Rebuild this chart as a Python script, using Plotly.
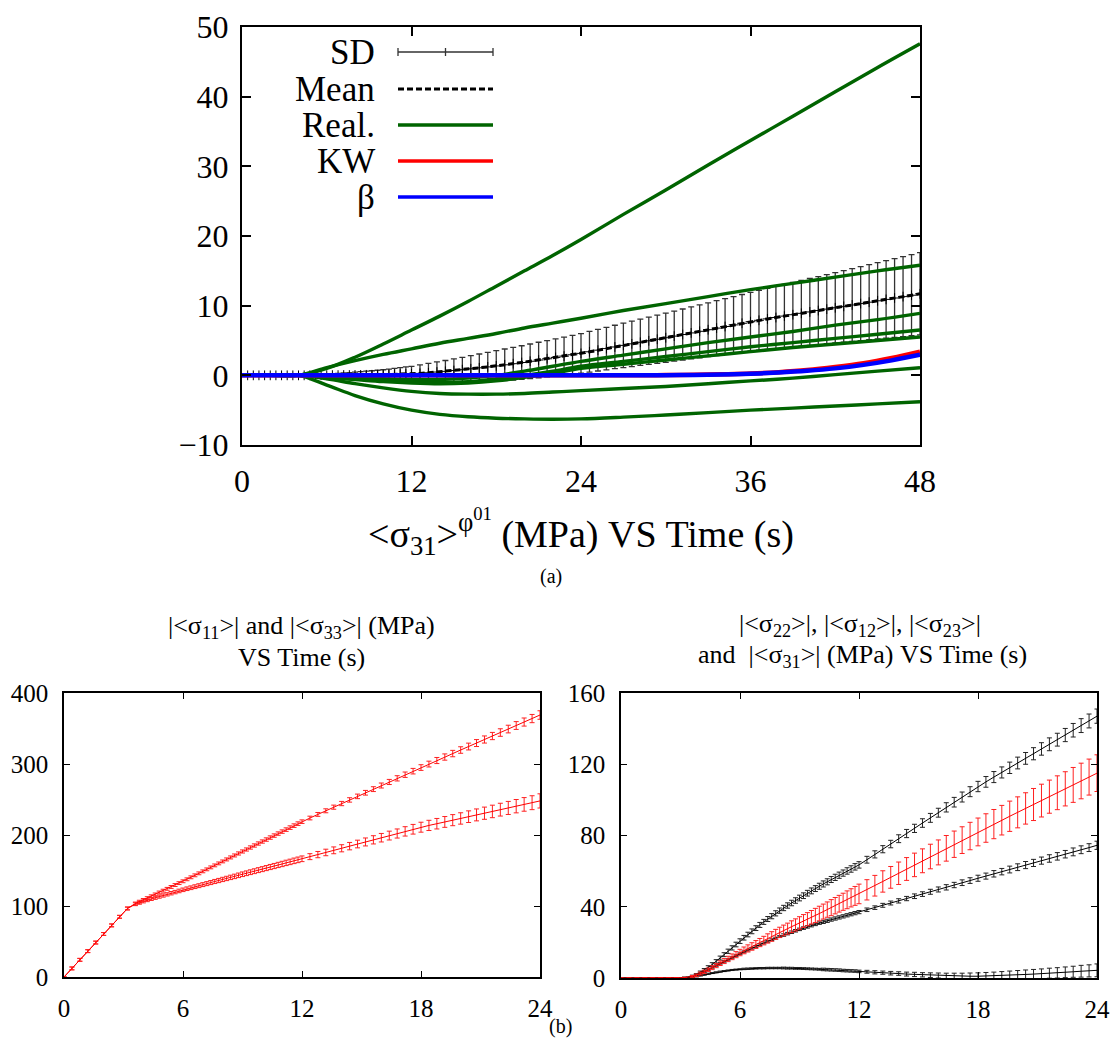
import plotly.graph_objects as go

# ---------------- DATA ----------------
# Top panel: realizations sampled every 2-3 s
T_REAL = [0, 2, 4, 6, 8, 10, 12, 14, 16, 18, 20, 22, 24, 27, 30, 33, 36, 39, 42, 45, 48]
REAL_1 = [0, 0, 0, 1.0, 2.6, 4.5, 6.5, 8.5, 10.6, 12.8, 15.0, 17.2, 19.5, 23.1, 26.6, 30.2, 33.7, 37.2, 40.7, 44.2, 47.6]
REAL_2 = [0, 0, 0, 1.1, 2.1, 3.0, 3.8, 4.6, 5.3, 6.0, 6.8, 7.5, 8.2, 9.3, 10.3, 11.3, 12.3, 13.2, 14.1, 15.0, 15.8]
REAL_3 = [0, 0, 0, -0.1, -0.3, -0.5, -0.6, -0.6, -0.4, 0.0, 0.6, 1.3, 2.0, 2.9, 3.8, 4.7, 5.5, 6.3, 7.2, 8.0, 8.9]
REAL_4 = [0, 0, 0, -0.2, -0.5, -0.7, -0.9, -1.0, -0.9, -0.5, 0.0, 0.6, 1.3, 2.0, 2.7, 3.4, 4.1, 4.7, 5.3, 5.9, 6.5]
REAL_5 = [0, 0, 0, -0.3, -0.6, -0.9, -1.1, -1.2, -1.1, -0.8, -0.3, 0.3, 1.0, 1.6, 2.2, 2.8, 3.4, 4.0, 4.5, 5.0, 5.5]
REAL_6 = [0, 0, 0, -0.5, -1.2, -1.8, -2.3, -2.6, -2.7, -2.7, -2.6, -2.4, -2.2, -1.9, -1.6, -1.2, -0.8, -0.4, 0.1, 0.6, 1.1]
REAL_7 = [0, 0, 0, -1.4, -2.9, -4.1, -5.0, -5.6, -5.95, -6.15, -6.25, -6.3, -6.25, -6.0, -5.7, -5.35, -5.0, -4.7, -4.4, -4.1, -3.8]
REALS = [REAL_1, REAL_2, REAL_3, REAL_4, REAL_5, REAL_6, REAL_7]

T_KW = [0, 4, 8, 12, 16, 20, 24, 28, 30, 32, 34, 36, 38, 40, 42, 44, 46, 48]
KW = [0, 0, 0, 0, 0, 0, 0, 0, 0.03, 0.08, 0.15, 0.25, 0.45, 0.75, 1.2, 1.75, 2.5, 3.4]
BETA = [0, 0, 0, 0, 0, 0, 0, 0, 0.02, 0.06, 0.12, 0.22, 0.4, 0.65, 1.0, 1.5, 2.15, 2.95]

T_MEAN = [0.4, 0.8, 1.2, 1.6, 2.0, 2.4, 2.8, 3.2, 3.6, 4.0,
          4.4, 4.8, 5.2, 5.6, 6.0, 6.4, 6.8, 7.2, 7.6, 8.0,
          8.4, 8.8, 9.2, 9.6, 10.0, 10.4, 10.8, 11.2, 11.6, 12.0,
          12.6, 13.2, 13.8, 14.4, 15.0, 15.6, 16.2, 16.8, 17.4, 18.0,
          18.6, 19.2, 19.8, 20.4, 21.0, 21.6, 22.2, 22.8, 23.4, 24.0,
          24.6, 25.2, 25.8, 26.4, 27.0, 27.6, 28.2, 28.8, 29.4, 30.0,
          30.6, 31.2, 31.8, 32.4, 33.0, 33.6, 34.2, 34.8, 35.4, 36.0,
          36.6, 37.2, 37.8, 38.4, 39.0, 39.6, 40.2, 40.8, 41.4, 42.0,
          42.6, 43.2, 43.8, 44.4, 45.0, 45.6, 46.2, 46.8, 47.4, 48.0]
MEAN = [0, 0, 0, 0, 0, 0, 0, 0, 0, 0,
        0.0, 0.01, 0.01, 0.02, 0.02, 0.03, 0.03, 0.04, 0.04, 0.05,
        0.06, 0.07, 0.08, 0.09, 0.1, 0.12, 0.14, 0.16, 0.18, 0.2,
        0.28, 0.37, 0.47, 0.57, 0.69, 0.81, 0.94, 1.08, 1.21, 1.35,
        1.51, 1.67, 1.84, 2.02, 2.2, 2.38, 2.57, 2.76, 2.95, 3.15,
        3.38, 3.61, 3.84, 4.07, 4.3, 4.52, 4.74, 4.96, 5.18, 5.4,
        5.63, 5.86, 6.09, 6.32, 6.55, 6.78, 7.01, 7.24, 7.47, 7.7,
        7.9, 8.1, 8.3, 8.5, 8.7, 8.9, 9.1, 9.3, 9.5, 9.7,
        9.9, 10.1, 10.3, 10.5, 10.7, 10.9, 11.1, 11.3, 11.5, 11.7]
SD = [0, 0, 0, 0, 0, 0, 0, 0, 0, 0,
      0.02, 0.05, 0.09, 0.13, 0.17, 0.21, 0.26, 0.31, 0.36, 0.41,
      0.46, 0.52, 0.58, 0.64, 0.7, 0.78, 0.86, 0.94, 1.02, 1.1,
      1.22, 1.34, 1.45, 1.56, 1.67, 1.78, 1.88, 1.98, 2.09, 2.2,
      2.27, 2.34, 2.41, 2.48, 2.55, 2.61, 2.67, 2.73, 2.79, 2.85,
      2.92, 2.99, 3.05, 3.12, 3.19, 3.26, 3.32, 3.39, 3.46, 3.53,
      3.59, 3.66, 3.73, 3.8, 3.86, 3.93, 4.0, 4.07, 4.13, 4.2,
      4.29, 4.37, 4.46, 4.54, 4.63, 4.71, 4.8, 4.88, 4.97, 5.05,
      5.14, 5.22, 5.31, 5.39, 5.48, 5.56, 5.65, 5.73, 5.82, 5.9]

# Bottom panels: common time grid
T_BOT = [0, 0.4, 0.8, 1.2, 1.6, 2.0, 2.4, 2.8, 3.2, 3.6,
         3.8, 4.0, 4.2, 4.4, 4.6, 4.8, 5.0, 5.2, 5.4, 5.6, 5.8, 6.0,
         6.2, 6.4, 6.6, 6.8, 7.0, 7.2, 7.4, 7.6, 7.8, 8.0,
         8.2, 8.4, 8.6, 8.8, 9.0, 9.2, 9.4, 9.6, 9.8, 10.0,
         10.2, 10.4, 10.6, 10.8, 11.0, 11.2, 11.4, 11.6, 11.8, 12.0,
         12.4, 12.8, 13.2, 13.6, 14.0, 14.4, 14.8, 15.2, 15.6, 16.0,
         16.4, 16.8, 17.2, 17.6, 18.0, 18.4, 18.8, 19.2, 19.6, 20.0,
         20.4, 20.8, 21.2, 21.6, 22.0, 22.4, 22.8, 23.2, 23.6, 24.0]

S11 = [0, 12.1, 24.2, 36.4, 48.5, 60.6, 72.7, 84.8, 96.5, 103.5,
       106.1, 108.5, 111.1, 113.7, 116.3, 119.0, 121.6, 124.2, 126.8, 129.5, 132.2, 134.8,
       137.6, 140.4, 143.2, 146.0, 148.8, 151.6, 154.4, 157.2, 160.0, 162.8,
       165.6, 168.4, 171.2, 174.0, 176.8, 179.6, 182.4, 185.2, 188.0, 190.8,
       193.6, 196.4, 199.2, 202.0, 204.8, 207.6, 210.4, 213.2, 216.0, 218.8,
       223.9, 229.0, 234.1, 239.2, 244.3, 249.4, 254.4, 259.5, 264.6, 269.7,
       274.7, 279.8, 284.9, 289.9, 295.0, 299.9, 304.9, 309.8, 314.7, 319.7,
       324.6, 329.5, 334.5, 339.4, 344.3, 349.2, 354.2, 359.1, 364.0, 369.0]
S11_SD = [0, 2, 2, 2, 2, 2, 2, 2, 2, 2,
          2.0, 2.0, 2.0, 2.0, 2.0, 2.0, 2.0, 2.0, 2.0, 2.0, 2.0, 2.0,
          2.0, 2.0, 2.0, 2.0, 2.0, 2.0, 2.0, 2.0, 2.0, 2.0,
          2.1, 2.1, 2.1, 2.2, 2.2, 2.2, 2.3, 2.3, 2.3, 2.3,
          2.4, 2.4, 2.4, 2.4, 2.4, 2.5, 2.5, 2.5, 2.5, 2.5,
          2.6, 2.7, 2.8, 2.9, 3.0, 3.1, 3.2, 3.3, 3.4, 3.5,
          3.6, 3.7, 3.8, 3.9, 4.0, 4.1, 4.3, 4.4, 4.5, 4.6,
          4.8, 4.9, 5.0, 5.1, 5.3, 5.4, 5.5, 5.7, 5.8, 6.0]
S33 = [0, 12.1, 24.2, 36.4, 48.5, 60.6, 72.7, 84.8, 96.5, 102.5,
       104.5, 106.4, 108.2, 109.9, 111.6, 113.2, 114.8, 116.4, 118.0, 119.6, 121.2, 122.8,
       124.3, 125.7, 127.2, 128.6, 130.1, 131.5, 133.0, 134.5, 135.9, 137.4,
       138.8, 140.3, 141.7, 143.2, 144.7, 146.1, 147.6, 149.0, 150.5, 151.9,
       153.4, 154.9, 156.3, 157.8, 159.2, 160.7, 162.1, 163.6, 165.0, 166.5,
       169.5, 172.4, 175.4, 178.4, 181.3, 184.3, 187.3, 190.2, 193.2, 196.2,
       199.2, 202.1, 205.1, 208.1, 211.0, 213.5, 215.9, 218.4, 220.9, 223.3,
       225.8, 228.3, 230.7, 233.2, 235.7, 238.1, 240.6, 243.1, 245.5, 248.0]
S33_SD = [0, 2, 2, 2, 2, 2, 2, 2, 2, 2,
          2.0, 2.0, 2.1, 2.1, 2.2, 2.2, 2.3, 2.3, 2.4, 2.4, 2.5, 2.5,
          2.55, 2.6, 2.65, 2.7, 2.75, 2.8, 2.85, 2.9, 2.95, 3.0,
          3.05, 3.1, 3.15, 3.2, 3.25, 3.3, 3.35, 3.4, 3.45, 3.5,
          3.55, 3.6, 3.65, 3.7, 3.75, 3.8, 3.85, 3.9, 3.95, 4.0,
          4.2, 4.4, 4.6, 4.8, 5.0, 5.2, 5.4, 5.6, 5.8, 6.0,
          6.2, 6.4, 6.6, 6.8, 7.0, 7.2, 7.4, 7.6, 7.8, 8.0,
          8.2, 8.4, 8.6, 8.8, 9.0, 9.2, 9.4, 9.6, 9.8, 10.0]

S22 = [0, 0, 0, 0, 0, 0, 0, 0, 0.2, 1.1,
       1.9, 3.2, 4.5, 6.0, 7.6, 9.3, 11.2, 13.1, 15.0, 16.9, 18.8, 20.7,
       22.6, 24.4, 26.2, 28.0, 29.8, 31.5, 33.1, 34.7, 36.3, 37.8,
       39.3, 40.7, 42.1, 43.5, 44.9, 46.2, 47.6, 48.9, 50.2, 51.5,
       52.8, 54.0, 55.3, 56.5, 57.7, 58.9, 60.1, 61.2, 62.4, 63.5,
       66.4, 69.4, 72.3, 75.2, 78.2, 81.1, 84.0, 87.0, 89.9, 92.8,
       95.8, 98.7, 101.6, 104.6, 107.5, 110.1, 112.8, 115.4, 118.0, 120.7,
       123.3, 125.9, 128.6, 131.2, 133.8, 136.4, 139.1, 141.7, 144.3, 147.0]
S22_SD = [0, 0, 0, 0, 0, 0, 0, 0, 0.3, 0.5,
          0.6, 0.7, 0.8, 0.9, 1.0, 1.0, 1.1, 1.1, 1.2, 1.2, 1.3, 1.3,
          1.3, 1.3, 1.35, 1.35, 1.4, 1.4, 1.4, 1.45, 1.45, 1.5,
          1.5, 1.5, 1.55, 1.55, 1.6, 1.6, 1.6, 1.65, 1.65, 1.7,
          1.7, 1.7, 1.7, 1.75, 1.75, 1.75, 1.8, 1.8, 1.8, 1.8,
          1.9, 2.0, 2.0, 2.1, 2.2, 2.3, 2.3, 2.4, 2.5, 2.5,
          2.6, 2.7, 2.8, 2.8, 2.9, 3.0, 3.1, 3.1, 3.2, 3.3,
          3.3, 3.4, 3.5, 3.6, 3.6, 3.7, 3.8, 3.9, 3.9, 4.0]
S31 = [0, 0, 0, 0, 0, 0, 0, 0, 0.2, 0.9,
       1.5, 2.5, 3.5, 4.6, 5.8, 7.0, 8.3, 9.5, 10.7, 11.9, 13.1, 14.3,
       15.5, 16.6, 17.7, 18.8, 19.9, 21.0, 22.2, 23.3, 24.5, 25.6,
       26.7, 27.7, 28.8, 29.8, 30.9, 32.0, 33.0, 34.1, 35.1, 36.2,
       37.3, 38.4, 39.5, 40.6, 41.7, 42.8, 43.9, 45.0, 46.1, 47.2,
       49.5, 51.8, 54.2, 56.5, 58.8, 61.2, 63.5, 65.8, 68.2, 70.5,
       72.8, 75.1, 77.4, 79.7, 82.0, 84.2, 86.4, 88.6, 90.8, 93.0,
       95.2, 97.4, 99.6, 101.8, 104.0, 106.2, 108.4, 110.6, 112.8, 115.0]
S31_SD = [0, 0, 0, 0, 0, 0, 0, 0, 0.2, 0.5,
          0.7, 0.8, 0.9, 1.0, 1.1, 1.2, 1.3, 1.4, 1.5, 1.6, 1.7, 1.8,
          1.9, 2.0, 2.1, 2.2, 2.3, 2.4, 2.6, 2.7, 2.8, 2.9,
          3.0, 3.1, 3.3, 3.4, 3.5, 3.6, 3.7, 3.8, 4.0, 4.1,
          4.2, 4.3, 4.5, 4.6, 4.7, 4.8, 5.0, 5.1, 5.3, 5.5,
          5.7, 5.8, 6.0, 6.1, 6.3, 6.4, 6.6, 6.7, 6.9, 7.0,
          7.2, 7.4, 7.5, 7.7, 7.8, 8.0, 8.2, 8.3, 8.5, 8.7,
          8.8, 9.0, 9.2, 9.3, 9.5, 9.6, 9.8, 10.0, 10.1, 10.3]
S12 = [0, 0, 0, 0, 0, 0, 0, 0, 0.2, 0.9,
       1.5, 2.5, 3.6, 4.7, 5.9, 7.0, 8.2, 9.3, 10.4, 11.5, 12.6, 13.7,
       14.7, 15.7, 16.7, 17.7, 18.7, 19.7, 20.6, 21.5, 22.4, 23.3,
       24.1, 24.9, 25.7, 26.5, 27.3, 28.0, 28.7, 29.4, 30.1, 30.8,
       31.5, 32.1, 32.8, 33.4, 34.0, 34.6, 35.2, 35.8, 36.4, 37.0,
       38.3, 39.5, 40.8, 42.1, 43.3, 44.6, 45.9, 47.1, 48.4, 49.7,
       50.9, 52.2, 53.5, 54.7, 56.0, 57.2, 58.5, 59.7, 60.9, 62.2,
       63.4, 64.6, 65.9, 67.1, 68.3, 69.5, 70.8, 72.0, 73.2, 74.5]
S12_SD = [0, 0, 0, 0, 0, 0, 0, 0, 0.2, 0.3,
          0.4, 0.4, 0.4, 0.4, 0.4, 0.4, 0.4, 0.4, 0.4, 0.4, 0.4, 0.4,
          0.5, 0.5, 0.5, 0.5, 0.5, 0.5, 0.5, 0.5, 0.5, 0.5,
          0.7, 0.7, 0.7, 0.7, 0.7, 0.7, 0.7, 0.7, 0.7, 0.7,
          0.9, 0.9, 0.9, 0.9, 0.9, 0.9, 0.9, 0.9, 0.9, 0.9,
          1.0, 1.0, 1.1, 1.1, 1.2, 1.2, 1.3, 1.3, 1.4, 1.4,
          1.5, 1.5, 1.6, 1.6, 1.7, 1.7, 1.8, 1.8, 1.9, 1.9,
          2.0, 2.0, 2.0, 2.1, 2.1, 2.1, 2.2, 2.2, 2.2, 2.3]
S23 = [0, 0, 0, 0, 0, 0, 0, 0, 0.1, 0.5,
       0.9, 1.4, 1.9, 2.4, 2.8, 3.2, 3.6, 3.9, 4.2, 4.5, 4.7, 4.9,
       5.1, 5.2, 5.3, 5.4, 5.5, 5.5, 5.6, 5.6, 5.6, 5.6,
       5.6, 5.5, 5.5, 5.4, 5.4, 5.3, 5.2, 5.1, 5.0, 4.9,
       4.8, 4.7, 4.6, 4.5, 4.4, 4.2, 4.1, 4.0, 3.9, 3.7,
       3.5, 3.2, 3.0, 2.7, 2.5, 2.2, 2.0, 1.8, 1.6, 1.4,
       1.2, 1.1, 1.0, 1.0, 1.0, 1.1, 1.2, 1.4, 1.6, 1.8,
       2.0, 2.2, 2.4, 2.7, 2.9, 3.2, 3.5, 3.8, 4.0, 4.3]
S23_SD = [0, 0, 0, 0, 0, 0, 0, 0, 0.1, 0.2,
          0.3, 0.3, 0.3, 0.3, 0.3, 0.3, 0.3, 0.3, 0.3, 0.3, 0.3, 0.3,
          0.4, 0.4, 0.4, 0.4, 0.4, 0.4, 0.4, 0.4, 0.4, 0.4,
          0.5, 0.5, 0.5, 0.5, 0.5, 0.5, 0.5, 0.5, 0.5, 0.5,
          0.7, 0.7, 0.7, 0.7, 0.7, 0.7, 0.7, 0.7, 0.7, 0.7,
          0.8, 0.9, 0.9, 1.0, 1.0, 1.1, 1.2, 1.2, 1.3, 1.4,
          1.5, 1.6, 1.7, 1.8, 1.9, 2.0, 2.1, 2.2, 2.3, 2.4,
          2.5, 2.6, 2.7, 2.8, 2.9, 3.0, 3.1, 3.3, 3.4, 3.6]

TOP_XTICKS = [0, 12, 24, 36, 48]
TOP_YTICKS = [-10, 0, 10, 20, 30, 40, 50]
BOT_XTICKS = [0, 6, 12, 18, 24]
BL_YTICKS = [0, 100, 200, 300, 400]
BR_YTICKS = [0, 40, 80, 120, 160]

# ---------------- STYLE ----------------
# The page body has an 8 px default margin: the figure is sized to fit the
# window and reference pixel positions are converted to figure coordinates.
OFF = 8
W, H = 1119 - OFF, 1041 - OFF
FONT = "Liberation Serif, Times New Roman, Times, serif"
GREEN = "#006400"


def px(x):
    return (x - OFF) / W


def py(y):
    return 1 - (y - OFF) / H


fig = go.Figure()

# --- top panel ---
fig.add_trace(go.Scatter(
    x=T_MEAN, y=MEAN, mode="markers", xaxis="x", yaxis="y",
    marker=dict(symbol="cross-thin", size=7, color="black", line=dict(width=1, color="black")),
    error_y=dict(type="data", array=SD, color="#333333", thickness=1.3, width=3),
    showlegend=False, hoverinfo="skip"))
fig.add_trace(go.Scatter(
    x=T_MEAN, y=MEAN, mode="lines", xaxis="x", yaxis="y",
    line=dict(color="black", width=3, dash="6px,3px"), showlegend=False))
for r in REALS:
    fig.add_trace(go.Scatter(
        x=T_REAL, y=r, mode="lines", xaxis="x", yaxis="y",
        line=dict(color=GREEN, width=3.4, shape="spline", smoothing=1.0), showlegend=False))
fig.add_trace(go.Scatter(x=T_KW, y=KW, mode="lines", xaxis="x", yaxis="y",
                         line=dict(color="#ff0000", width=4.5, shape="spline", smoothing=1.0),
                         showlegend=False))
fig.add_trace(go.Scatter(x=T_KW, y=BETA, mode="lines", xaxis="x", yaxis="y",
                         line=dict(color="#0000ff", width=4.5, shape="spline", smoothing=1.0),
                         showlegend=False))

# --- bottom-left panel ---
for ys, sd in [(S33, S33_SD), (S11, S11_SD)]:
    fig.add_trace(go.Scatter(
        x=T_BOT, y=ys, mode="lines", xaxis="x2", yaxis="y2",
        line=dict(color="#ff0000", width=1),
        error_y=dict(type="data", array=sd, color="#ff2020", thickness=1, width=2.5),
        showlegend=False))

# --- bottom-right panel ---
for ys, sd in [(S23, S23_SD), (S12, S12_SD), (S22, S22_SD)]:
    fig.add_trace(go.Scatter(
        x=T_BOT, y=ys, mode="lines", xaxis="x3", yaxis="y3",
        line=dict(color="black", width=1),
        error_y=dict(type="data", array=sd, color="#222222", thickness=1, width=2.5),
        showlegend=False))
fig.add_trace(go.Scatter(
    x=T_BOT, y=S31, mode="lines", xaxis="x3", yaxis="y3",
    line=dict(color="#ff0000", width=1),
    error_y=dict(type="data", array=S31_SD, color="#ff2020", thickness=1, width=2.5),
    showlegend=False))

axis_common = dict(showline=True, linecolor="black", mirror="ticks", ticks="inside",
                   showgrid=False, zeroline=False, tickcolor="black", automargin=False)

fig.update_layout(
    width=W, height=H, margin=dict(l=0, r=0, t=0, b=0, autoexpand=False),
    paper_bgcolor="white", plot_bgcolor="white",
    font=dict(family=FONT, color="black"),
    xaxis=dict(domain=[px(242), px(920)], range=[0, 48], tickvals=TOP_XTICKS,
               ticklen=9, linewidth=2, tickwidth=1.5, tickfont=dict(size=32, family=FONT),
               ticklabelstandoff=7, anchor="y", **axis_common),
    yaxis=dict(domain=[py(445), py(27)], range=[-10, 50], tickvals=TOP_YTICKS,
               ticklen=9, linewidth=2, tickwidth=1.5, tickfont=dict(size=32, family=FONT),
               ticklabelstandoff=5, anchor="x", **axis_common),
    xaxis2=dict(domain=[px(64), px(540)], range=[0, 24], tickvals=BOT_XTICKS,
                ticklen=6, linewidth=1.5, tickwidth=1, tickfont=dict(size=25, family=FONT),
                ticklabelstandoff=8, anchor="y2", **axis_common),
    yaxis2=dict(domain=[py(977), py(693)], range=[0, 400], tickvals=BL_YTICKS,
                ticklen=6, linewidth=1.5, tickwidth=1, tickfont=dict(size=25, family=FONT),
                ticklabelstandoff=9, anchor="x2", **axis_common),
    xaxis3=dict(domain=[px(621), px(1097)], range=[0, 24], tickvals=BOT_XTICKS,
                ticklen=6, linewidth=1.5, tickwidth=1, tickfont=dict(size=25, family=FONT),
                ticklabelstandoff=8, anchor="y3", **axis_common),
    yaxis3=dict(domain=[py(978), py(693)], range=[0, 160], tickvals=BR_YTICKS,
                ticklen=6, linewidth=1.5, tickwidth=1, tickfont=dict(size=25, family=FONT),
                ticklabelstandoff=9, anchor="x3", **axis_common),
)

# --- custom legend (text left, sample right) ---
legend_rows = [("SD", 52), ("Mean", 89), ("Real.", 125), ("KW", 161), ("β", 197)]
annotations = []
for label, yy in legend_rows:
    annotations.append(dict(x=px(377), y=py(yy), xref="paper", yref="paper", text=label,
                            showarrow=False, xanchor="right", yanchor="middle",
                            font=dict(size=35, family=FONT)))
shapes = []
x0, x1 = px(398), px(493)
shapes.append(dict(type="line", xref="paper", yref="paper", x0=x0, x1=x1, y0=py(52), y1=py(52),
                   line=dict(color="#333333", width=1.3)))
for xx in (398, 445.5, 493):
    shapes.append(dict(type="line", xref="paper", yref="paper", x0=px(xx), x1=px(xx),
                       y0=py(48), y1=py(56), line=dict(color="#333333", width=1.3)))
shapes.append(dict(type="line", xref="paper", yref="paper", x0=x0, x1=x1, y0=py(89), y1=py(89),
                   line=dict(color="black", width=3, dash="6px,3px")))
for col, yy in [(GREEN, 125), ("#ff0000", 161), ("#0000ff", 197)]:
    shapes.append(dict(type="line", xref="paper", yref="paper", x0=x0, x1=x1, y0=py(yy), y1=py(yy),
                       line=dict(color=col, width=3.5)))

# --- titles and labels ---
annotations += [
    dict(x=px(581), y=py(532), xref="paper", yref="paper", showarrow=False,
         text="&lt;σ<sub>31</sub>&gt;<sup>φ<sup>01</sup></sup> (MPa) VS Time (s)",
         font=dict(size=38, family=FONT), xanchor="center", yanchor="middle"),
    dict(x=px(551), y=py(576), xref="paper", yref="paper", showarrow=False, text="(a)",
         font=dict(size=20, family=FONT), xanchor="center", yanchor="middle"),
    dict(x=px(560), y=py(1026), xref="paper", yref="paper", showarrow=False, text="(b)",
         font=dict(size=20, family=FONT), xanchor="center", yanchor="middle"),
    dict(x=px(301), y=py(627), xref="paper", yref="paper", showarrow=False,
         text="|&lt;σ<sub>11</sub>&gt;| and |&lt;σ<sub>33</sub>&gt;| (MPa)",
         font=dict(size=26, family=FONT), xanchor="center", yanchor="middle"),
    dict(x=px(301), y=py(657), xref="paper", yref="paper", showarrow=False,
         text="VS Time (s)", font=dict(size=26, family=FONT), xanchor="center", yanchor="middle"),
    dict(x=px(860), y=py(625), xref="paper", yref="paper", showarrow=False,
         text="|&lt;σ<sub>22</sub>&gt;|, |&lt;σ<sub>12</sub>&gt;|, |&lt;σ<sub>23</sub>&gt;|",
         font=dict(size=26, family=FONT), xanchor="center", yanchor="middle"),
    dict(x=px(862), y=py(656), xref="paper", yref="paper", showarrow=False,
         text="and  |&lt;σ<sub>31</sub>&gt;| (MPa) VS Time (s)",
         font=dict(size=26, family=FONT), xanchor="center", yanchor="middle"),
]

fig.update_layout(annotations=annotations, shapes=shapes)
fig.write_html("out.html")
